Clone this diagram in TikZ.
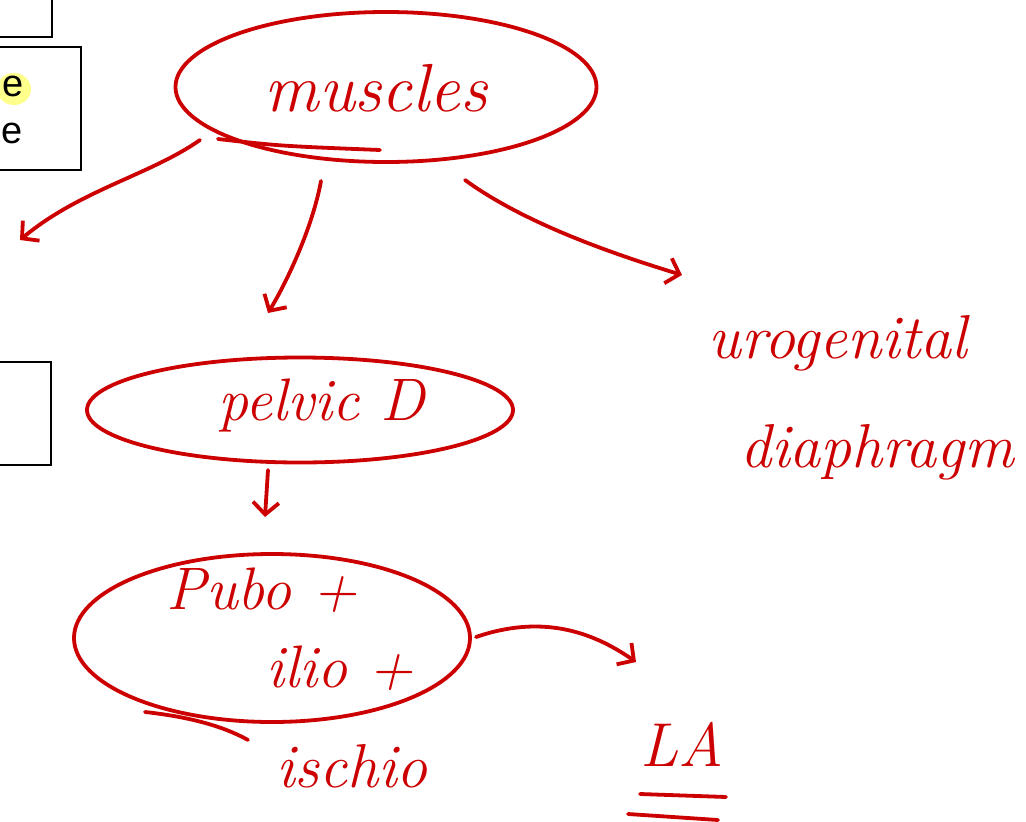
\documentclass[tikz,border=0pt]{standalone}
\usepackage{fontspec}
\usetikzlibrary{shapes.geometric,arrows.meta}
\definecolor{ink}{RGB}{204,0,0}
\definecolor{hilite}{RGB}{255,255,140}
\begin{document}
\begin{tikzpicture}[x=1pt,y=-1pt,
  pen/.style={draw=ink,line width=3.8pt,line cap=round,line join=round},
  oval/.style={pen,ellipse,inner sep=0pt},
  arr/.style={pen,-{Straight Barb[length=12pt,width=26pt,line width=3.8pt]}},
  hand/.style={text=ink,font=\itshape,inner sep=0pt,anchor=center},
  boxline/.style={draw=black,line width=1.5pt},
  boxtxt/.style={font=\fontspec{Liberation Sans}\fontsize{38}{38}\selectfont,inner sep=0pt}]
\useasboundingbox (0,0) rectangle (1026,822);
\fill[white] (0,0) rectangle (1026,822);

% clipped boxes on the left edge
\draw[boxline] (-5,37) -- (52,37) -- (52,-5);
\draw[boxline] (-5,47) -- (81,47) -- (81,170) -- (-5,170);
\fill[hilite] (14,89) ellipse (17pt and 16pt);
\node[boxtxt] (e1) at (13,86) {e};
\node[boxtxt] (e2) at (12,133) {e};
\draw[boxline] (-5,362) -- (51,362) -- (51,465) -- (-5,465);

% top concept
\node[oval,minimum width=421pt,minimum height=150pt] (mus) at (386,87) {};
\node[hand,font=\itshape\fontsize{68}{68}\selectfont] (musT) at (376,88) {muscles};
\coordinate (musU1) at (218,139);
\coordinate (musU2) at (380,150);
\draw[pen] (musU1) .. controls (280,146) .. (musU2);

% branches from the top concept
\coordinate (l0) at (200,140);
\coordinate (l1) at (20,240);
\draw[arr] (l0) .. controls (150,175) and (80,190) .. (l1);
\coordinate (m0) at (321,181);
\coordinate (m1) at (268,313);
\draw[arr] (m0) .. controls (312,230) and (285,285) .. (m1);
\coordinate (r0) at (465,180);
\coordinate (r1) at (682,275);
\draw[arr] (r0) .. controls (520,220) and (600,250) .. (r1);

\node[hand,font=\itshape\fontsize{62}{62}\selectfont] (uro) at (838,343) {urogenital};
\node[hand,font=\itshape\fontsize{62}{62}\selectfont,anchor=west] (dia) at (740,452) {diaphragm};

% pelvic diaphragm
\node[oval,minimum width=426pt,minimum height=105pt] (pel) at (300,410) {};
\node[hand,font=\itshape\fontsize{60}{60}\selectfont] (pelT) at (322,405) {pelvic D};
\coordinate (p0) at (268,470);
\coordinate (p1) at (265,517);
\draw[arr] (p0) -- (p1);

% levator ani parts
\node[oval,minimum width=396pt,minimum height=168pt] (lev) at (272,638) {};
\node[hand,font=\itshape\fontsize{60}{60}\selectfont] (pubo) at (262,590) {Pubo +};
\node[hand,font=\itshape\fontsize{60}{60}\selectfont] (ilio) at (340,668) {ilio +};
\node[hand,font=\itshape\fontsize{62}{62}\selectfont] (isch) at (352,766) {ischio};
\coordinate (levU1) at (145,712);
\coordinate (levU2) at (248,740);
\draw[pen] (levU1) .. controls (200,718) and (230,730) .. (levU2);

\coordinate (q0) at (476,637);
\coordinate (q1) at (636,662);
\draw[arr] (q0) .. controls (540,615) and (590,630) .. (q1);

\node[hand,font=\itshape\fontsize{62}{62}\selectfont] (la) at (682,744) {LA};
\coordinate (u1) at (640,794);
\coordinate (u2) at (726,797);
\coordinate (u3) at (628,814);
\coordinate (u4) at (718,820);
\draw[pen] (u1) -- (u2);
\draw[pen] (u3) -- (u4);
\end{tikzpicture}
\end{document}
